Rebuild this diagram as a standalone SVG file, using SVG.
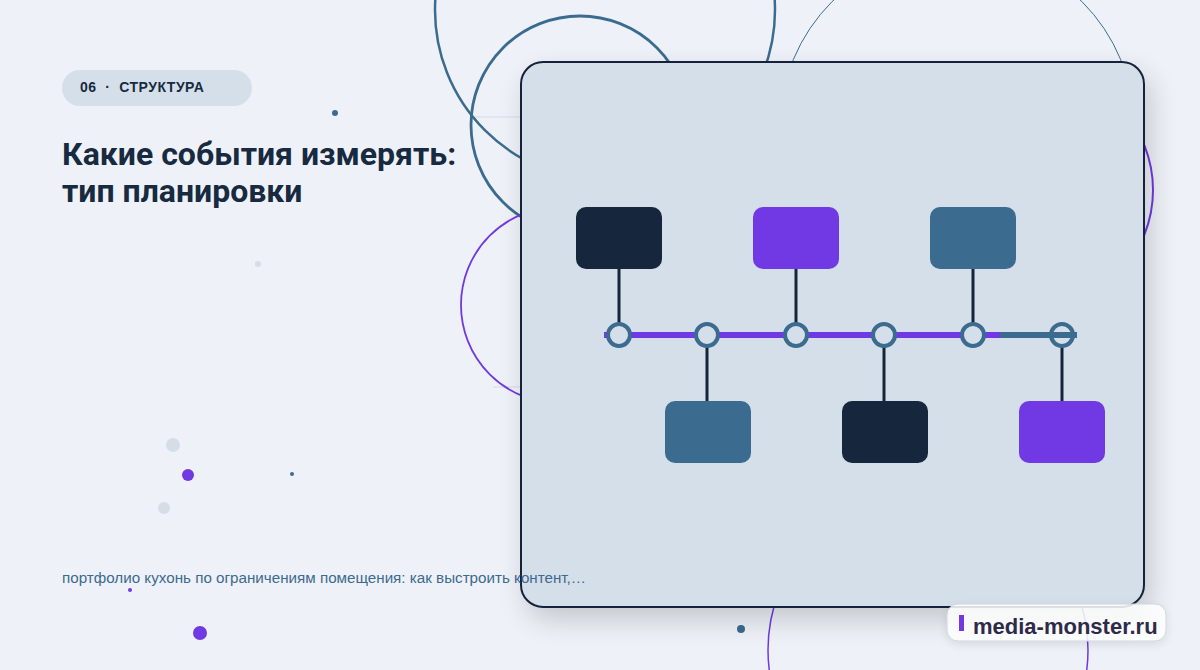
<svg xmlns="http://www.w3.org/2000/svg" width="1200" height="670" viewBox="0 0 1200 670">
<defs>
<filter id="sh" x="-20%" y="-20%" width="140%" height="140%">
<feGaussianBlur in="SourceAlpha" stdDeviation="14"/>
<feOffset dx="6" dy="12" result="b"/>
<feComponentTransfer><feFuncA type="linear" slope="0.18"/></feComponentTransfer>
<feMerge><feMergeNode/><feMergeNode in="SourceGraphic"/></feMerge>
</filter>
<filter id="sh2" x="-20%" y="-40%" width="140%" height="180%">
<feGaussianBlur in="SourceAlpha" stdDeviation="5"/>
<feOffset dx="0" dy="3"/>
<feComponentTransfer><feFuncA type="linear" slope="0.12"/></feComponentTransfer>
<feMerge><feMergeNode/><feMergeNode in="SourceGraphic"/></feMerge>
</filter>
</defs>
<style>
.box{stroke:none}
.dark{fill:#16263c}
.pur{fill:#7139e3}
.teal{fill:#3b6b8f}
.stem{stroke:#14243a;stroke-width:3;fill:none}
.node{fill:#d5dfea;stroke:#3b6b8f;stroke-width:4}
.ring{fill:none}
</style>
<rect width="1200" height="670" fill="#eef2f8"/>
<g id="decor">
<line x1="470" y1="117" x2="520" y2="117" stroke="#d4dbe4" stroke-width="1"/>
<line x1="493" y1="387" x2="520" y2="387" stroke="#d4dbe4" stroke-width="1"/>
<circle class="ring" cx="605" cy="10" r="170" stroke="#3b6b8f" stroke-width="2.5"/>
<circle class="ring" cx="580" cy="125" r="109" stroke="#3b6b8f" stroke-width="2.8"/>
<circle class="ring" cx="957" cy="127" r="177" stroke="#3b6b8f" stroke-width="1"/>
<circle class="ring" cx="1033" cy="190" r="120" stroke="#7139e3" stroke-width="2"/>
<circle class="ring" cx="559" cy="305" r="98" stroke="#7139e3" stroke-width="1.8"/>
<circle class="ring" cx="928" cy="650" r="160" stroke="#7139e3" stroke-width="1.5"/>
<circle cx="335" cy="113" r="3" fill="#3b6b8f"/>
<circle cx="258" cy="264" r="3" fill="#d5dde6"/>
<circle cx="173" cy="445" r="7" fill="#d5dde6"/>
<circle cx="188" cy="475" r="6" fill="#7139e3"/>
<circle cx="292" cy="474" r="2" fill="#3b6b8f"/>
<circle cx="164" cy="508" r="6" fill="#d5dde6"/>
<circle cx="130" cy="590" r="2" fill="#7139e3"/>
<circle cx="200" cy="633" r="7" fill="#7139e3"/>
<circle cx="741" cy="629" r="4" fill="#3b6b8f"/>
</g>
<g id="header">
<rect x="62" y="70" width="190" height="36" rx="18" fill="#d5dfea"/>
<text x="80" y="92" font-family="'Liberation Sans', Arial, sans-serif" font-weight="700" font-size="14" fill="#172a40" letter-spacing="0.5" xml:space="preserve">06  ·  СТРУКТУРА</text>
<text font-family="Roboto, 'Liberation Sans', sans-serif" font-weight="700" font-size="32" fill="#172a40"><tspan x="62" y="165">Какие события измерять:</tspan><tspan x="62" y="202">тип планировки</tspan></text>
</g>
<g id="panel">
<rect x="521" y="62" width="623" height="545" rx="22" fill="#d5dfea" stroke="#14243a" stroke-width="2" filter="url(#sh)"/>
</g>
<g id="connectors">
<line class="stem" x1="619" y1="269" x2="619" y2="324"/>
<line class="stem" x1="796" y1="269" x2="796" y2="324"/>
<line class="stem" x1="973" y1="269" x2="973" y2="324"/>
<line class="stem" x1="707" y1="346" x2="707" y2="401"/>
<line class="stem" x1="884" y1="346" x2="884" y2="401"/>
<line class="stem" x1="1062" y1="346" x2="1062" y2="401"/>
<line x1="604" y1="335" x2="1000" y2="335" stroke="#7139e3" stroke-width="6"/>
</g>
<g id="timeline-nodes">
<circle class="node" cx="619" cy="335" r="11"/>
<circle class="node" cx="707" cy="335" r="11"/>
<circle class="node" cx="796" cy="335" r="11"/>
<circle class="node" cx="884" cy="335" r="11"/>
<circle class="node" cx="973" cy="335" r="11"/>
<circle class="node" cx="1062" cy="335" r="11"/>
<line x1="1000" y1="335" x2="1077" y2="335" stroke="#3b6b8f" stroke-width="6"/>
</g>
<g id="box-1"><rect class="box dark" x="576" y="207" width="86" height="62" rx="10"/></g>
<g id="box-2"><rect class="box pur" x="753" y="207" width="86" height="62" rx="10"/></g>
<g id="box-3"><rect class="box teal" x="930" y="207" width="86" height="62" rx="10"/></g>
<g id="box-4"><rect class="box teal" x="665" y="401" width="86" height="62" rx="10"/></g>
<g id="box-5"><rect class="box dark" x="842" y="401" width="86" height="62" rx="10"/></g>
<g id="box-6"><rect class="box pur" x="1019" y="401" width="86" height="62" rx="10"/></g>
<g id="footer">
<text x="62" y="583" font-family="'Liberation Sans', Arial, sans-serif" font-size="15.2" fill="#3d6a8e">портфолио кухонь по ограничениям помещения: как выстроить контент,…</text>
</g>
<g id="badge">
<rect x="947" y="604" width="219" height="37" rx="11" fill="#ffffff" fill-opacity="0.85" stroke="#cfd6e0" stroke-width="1" filter="url(#sh2)"/>
<rect x="959" y="615" width="5" height="16" fill="#7139e3"/>
<text x="973" y="634" font-family="'Liberation Sans', Arial, sans-serif" font-weight="700" font-size="22" fill="#2e2a4a">media-monster.ru</text>
</g>
</svg>
